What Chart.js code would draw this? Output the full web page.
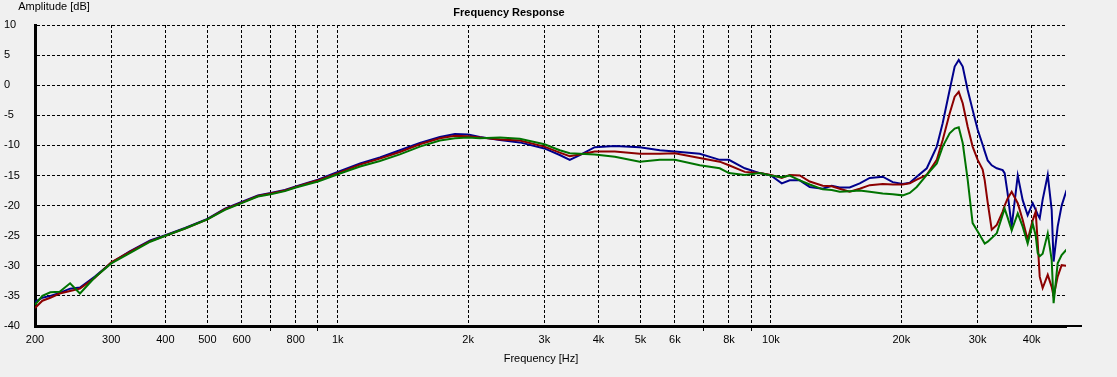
<!DOCTYPE html>
<html>
<head>
<meta charset="utf-8">
<script src="https://cdn.jsdelivr.net/npm/chart.js@4.4.1/dist/chart.umd.min.js"></script>
<style>
    body { margin: 0; background: #f0f0f0; }
    canvas { display: block; }
</style>
</head>
<body>
<canvas id="frChart" width="1117" height="377"></canvas>
<script>
// frequencies (Hz) shared by all three traces
const freqHz = [200, 208, 217, 228, 241, 254, 275, 300, 331, 369,
    400, 444, 500, 549, 600, 654, 700, 755, 800, 900,
    1000, 1126, 1251, 1391, 1547, 1721, 1864, 2000, 2128, 2368,
    2632, 3000, 3255, 3432, 3620, 3920, 4362, 4980, 5540, 6000,
    6850, 7618, 8000, 8702, 9424, 10000, 10594, 11052, 11657, 12292,
    13172, 13818, 14416, 15201, 16034, 16910, 18120, 19110, 20150, 20920,
    21708, 22900, 24150, 24920, 25860, 26560, 27140, 27720, 28460, 29220,
    30020, 30820, 31160, 31660, 32340, 33220, 34280, 34640, 35200, 35960,
    37140, 38130, 39150, 40220, 40860, 41300, 41740, 42400, 43560, 44480,
    44940, 45920, 46900, 48160];

const blueDb = [-36.0, -35.3, -35.0, -34.5, -33.8, -33.6, -31.8, -29.5, -27.6, -25.8,
    -24.9, -23.7, -22.2, -20.5, -19.4, -18.3, -17.9, -17.4, -16.8, -15.7,
    -14.4, -13.0, -12.0, -10.8, -9.6, -8.6, -8.1, -8.2, -8.6, -9.1,
    -9.5, -10.5, -11.6, -12.4, -11.6, -10.3, -10.1, -10.3, -10.8, -11.0,
    -11.4, -12.4, -12.4, -13.8, -14.6, -15.0, -16.3, -15.8, -15.8, -16.9,
    -17.2, -16.7, -17.0, -17.0, -16.3, -15.4, -15.2, -16.1, -16.4, -16.2,
    -15.2, -13.8, -10.2, -6.3, -0.8, 3.1, 4.2, 3.1, -0.8, -4.1,
    -7.4, -9.9, -11.0, -12.5, -13.3, -13.8, -14.1, -14.6, -18.0, -23.5,
    -15.0, -19.1, -21.6, -19.6, -20.7, -21.5, -22.1, -19.0, -14.9, -20.7,
    -29.3, -23.5, -20.0, -17.4];

const redDb = [-37.0, -35.8, -35.3, -34.6, -34.2, -33.8, -32.0, -29.4, -27.7, -25.9,
    -25.0, -23.8, -22.3, -20.6, -19.5, -18.4, -18.0, -17.5, -16.9, -15.8,
    -14.6, -13.2, -12.2, -11.1, -9.8, -8.8, -8.4, -8.5, -8.7, -9.0,
    -9.2, -10.2, -11.2, -11.8, -11.5, -11.0, -11.0, -11.4, -11.4, -11.3,
    -12.1, -12.7, -13.3, -14.4, -14.6, -14.9, -15.4, -14.9, -15.0, -16.0,
    -16.7, -16.8, -17.2, -17.7, -17.2, -16.6, -16.4, -16.5, -16.5, -16.3,
    -15.7, -14.9, -12.4, -9.1, -4.7, -1.9, -1.1, -3.0, -6.9, -10.2,
    -12.4, -14.0, -15.8, -19.5, -24.0, -23.2, -21.0, -20.0, -18.8, -17.7,
    -19.6, -22.4, -25.7, -22.4, -21.0, -26.2, -31.8, -33.7, -31.5, -33.5,
    -35.1, -31.8, -29.9, -30.0];

const greenDb = [-36.5, -35.0, -34.4, -34.3, -32.9, -34.6, -31.9, -29.6, -27.9, -26.0,
    -25.0, -23.8, -22.3, -20.7, -19.6, -18.5, -18.1, -17.6, -17.0, -16.0,
    -14.8, -13.5, -12.6, -11.5, -10.2, -9.2, -8.8, -8.7, -8.8, -8.7,
    -8.9, -9.8, -10.8, -11.3, -11.4, -11.5, -11.9, -12.7, -12.4, -12.4,
    -13.3, -13.8, -14.6, -14.9, -14.6, -15.0, -15.3, -15.0, -15.8, -16.5,
    -17.3, -17.4, -17.7, -17.6, -17.5, -17.7, -18.0, -18.1, -18.3, -17.9,
    -16.9, -14.9, -13.0, -10.2, -8.0, -7.2, -7.0, -9.6, -15.7, -22.9,
    -24.3, -25.7, -26.3, -26.0, -25.4, -24.6, -21.5, -20.5, -22.0, -24.1,
    -21.3, -23.5, -26.3, -23.0, -25.0, -27.9, -28.4, -28.0, -24.6, -29.0,
    -36.2, -29.6, -28.2, -27.3];

// x axis ticks; blank labels get only a short tick below the axis
const xTickValues = [200, 300, 400, 500, 600, 700, 800, 900, 1000,
    2000, 3000, 4000, 5000, 6000, 7000, 8000, 9000, 10000, 20000, 30000, 40000];
const xTickLabels = ["200", "300", "400", "500", "600", "", "800", "", "1k",
    "2k", "3k", "4k", "5k", "6k", "", "8k", "", "10k", "20k", "30k", "40k"];

const toPoints = (vals) => freqHz.map((f, i) => ({ x: f, y: vals[i] }));

const font = { family: "'Liberation Sans', Arial, sans-serif", size: 11 };

// titles and the axis line stub past the plot
const textPlugin = {
    id: "texts",
    beforeDraw(chart) {
        const c = chart.ctx;
        c.save();
        c.fillStyle = "#f0f0f0";
        c.fillRect(0, 0, chart.width, chart.height);
        c.restore();
    },
    afterDraw(chart) {
        const c = chart.ctx;
        const area = chart.chartArea;
        c.save();
        c.fillStyle = "#000";
        c.textBaseline = "middle";
        c.font = "11px " + font.family;
        c.textAlign = "center";
        c.fillText("Amplitude [dB]", 54, 7);
        c.fillText("Frequency [Hz]", 541, 359);
        c.font = "bold 11px " + font.family;
        c.fillText("Frequency Response", 509, 13);
        c.strokeStyle = "#000";
        c.lineWidth = 2;
        c.beginPath();
        c.moveTo(area.right, area.bottom);
        c.lineTo(area.right + 16, area.bottom);
        c.stroke();
        c.restore();
    }
};

const ctx = document.getElementById("frChart").getContext("2d");
const frChart = new Chart(ctx, {
    type: "line",
    data: {
        datasets: [
            { label: "green", data: toPoints(greenDb), borderColor: "rgb(0,115,0)" },
            { label: "red", data: toPoints(redDb), borderColor: "rgb(140,0,0)" },
            { label: "blue", data: toPoints(blueDb), borderColor: "rgb(0,0,140)" },
        ],
    },
    options: {
        responsive: false,
        animation: false,
        devicePixelRatio: 1,
        layout: { padding: { top: 25, right: 51, left: 4, bottom: 0 } },
        elements: {
            line: { borderWidth: 2, tension: 0 },
            point: { radius: 0 },
        },
        plugins: {
            legend: { display: false },
            title: { display: false },
            tooltip: { enabled: false },
        },
        scales: {
            x: {
                type: "logarithmic",
                min: 200,
                max: 48000,
                afterBuildTicks: (scale) => {
                    scale.ticks = xTickValues.map((v) => ({ value: v }));
                },
                afterFit: (scale) => { scale.height = 51; },
                ticks: {
                    autoSkip: false,
                    maxRotation: 0,
                    padding: 1,
                    color: "#000",
                    font: font,
                    callback: (value, index) => xTickLabels[index],
                },
                grid: {
                    color: "#000",
                    lineWidth: 1,
                    drawTicks: true,
                    tickLength: 6,
                    tickBorderDash: [3, 2],
                    tickColor: (c) => (xTickLabels[c.index] === "" ? "#000" : "rgba(0,0,0,0)"),
                },
                border: { display: true, color: "#000", width: 3, dash: [3, 2] },
            },
            y: {
                min: -40,
                max: 10,
                afterFit: (scale) => { scale.width = 31; },
                ticks: {
                    stepSize: 5,
                    crossAlign: "far",
                    padding: 3,
                    color: "#000",
                    font: font,
                },
                grid: {
                    color: "#000",
                    lineWidth: 1,
                    drawTicks: false,
                },
                border: { display: true, color: "#000", width: 3, dash: [3, 2] },
            },
        },
    },
    plugins: [textPlugin],
});
</script>
</body>
</html>
